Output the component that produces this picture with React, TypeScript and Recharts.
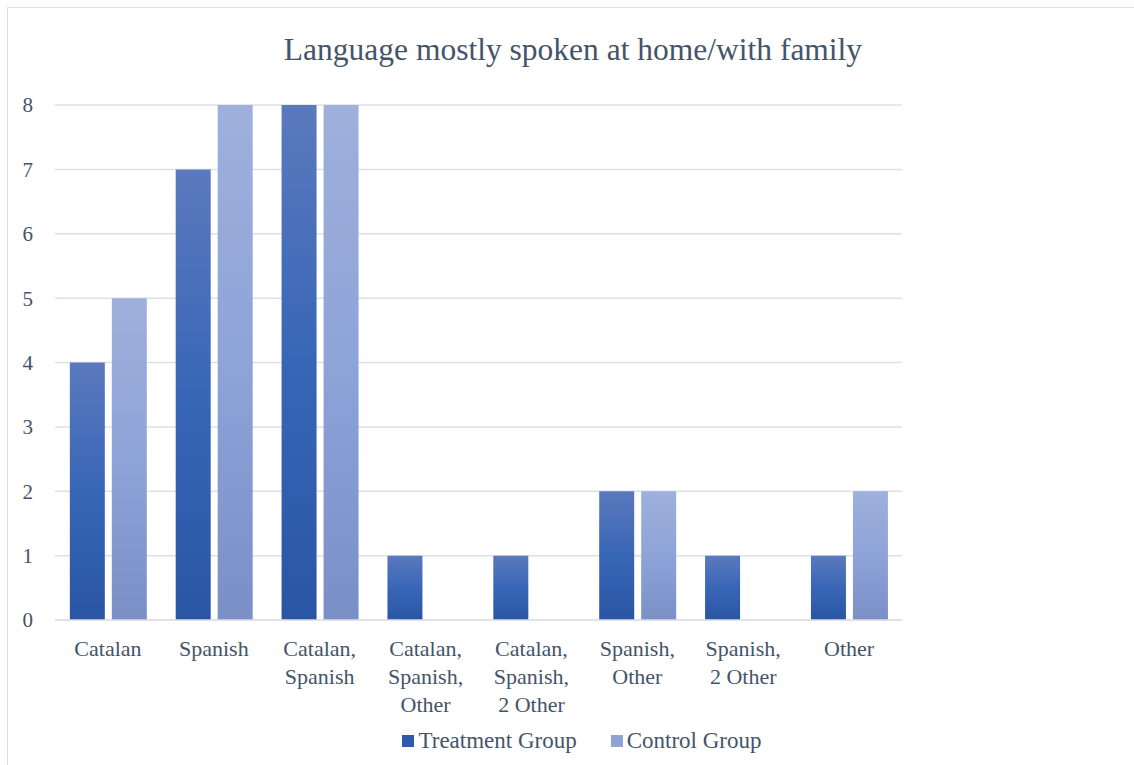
import React from 'react';
import { BarChart, Bar, XAxis, YAxis, CartesianGrid } from 'recharts';

// chart data
const categories = [
  'Catalan',
  'Spanish',
  'Catalan,\nSpanish',
  'Catalan,\nSpanish,\nOther',
  'Catalan,\nSpanish,\n2 Other',
  'Spanish,\nOther',
  'Spanish,\n2 Other',
  'Other',
];
const treatmentValues = [4, 7, 8, 1, 1, 2, 1, 1];
const controlValues = [5, 8, 8, 0, 0, 2, 0, 2];
const yTicks = [0, 1, 2, 3, 4, 5, 6, 7, 8];
const seriesNames = ['Treatment Group', 'Control Group'];
const title = 'Language mostly spoken at home/with family';

const FONT = '"Liberation Serif", "Times New Roman", Tinos, serif';
const TEXT_COLOR = '#44546a';
const GRID_COLOR = '#dde1e7';
const TREATMENT_SWATCH = '#2f5aaa';
const CONTROL_SWATCH = '#8fa3d6';

const data = categories.map((name, i) => ({
  name,
  treatment: treatmentValues[i],
  control: controlValues[i],
}));

// force the serif face everywhere in the chart
const fontCss = `html body #root .chart-root, html body #root .chart-root * { font-family: ${FONT} !important; }`;

// multi-line category labels
const CategoryTick = (props: any) => {
  const { x, y, payload } = props;
  const lines = String(payload.value).split('\n');
  return (
    <g transform={`translate(${x},${y})`}>
      {lines.map((line: string, i: number) => (
        <text
          key={i}
          x={0}
          y={28 + i * 28}
          textAnchor="middle"
          fill={TEXT_COLOR}
          fontSize={22}
          fontFamily="Liberation Serif"
        >
          {line}
        </text>
      ))}
    </g>
  );
};

const App: React.FC = () => {
  return (
    <div className="chart-root" style={{ position: 'absolute', left: 0, top: 0, width: 1134, height: 765, overflow: 'hidden', background: '#fff', fontFamily: FONT }}>
      <style>{fontCss}</style>
      {/* chart frame, only left/top edges visible */}
      <div style={{ position: 'absolute', left: 7, top: 7, width: 1200, height: 800, border: `1.5px solid ${GRID_COLOR}` }} />

      <div style={{ position: 'absolute', left: 0, top: 32, width: 1146, textAlign: 'center', fontSize: 31.5, color: TEXT_COLOR }}>
        {title}
      </div>

      <div style={{ position: 'absolute', left: 0, top: 0 }}>
        <BarChart
          width={1134}
          height={765}
          data={data}
          margin={{ top: 105, right: 232, left: 0, bottom: 45 }}
          barCategoryGap="14%"
          barGap={7}
        >
          <defs>
            <linearGradient id="gradTreatment" x1="0" y1="0" x2="0" y2="1">
              <stop offset="0%" stopColor="#5b79bd" />
              <stop offset="50%" stopColor="#3866b7" />
              <stop offset="100%" stopColor="#2a55a5" />
            </linearGradient>
            <linearGradient id="gradControl" x1="0" y1="0" x2="0" y2="1">
              <stop offset="0%" stopColor="#9eb0db" />
              <stop offset="50%" stopColor="#8ea3d8" />
              <stop offset="100%" stopColor="#7a8fc6" />
            </linearGradient>
          </defs>
          <CartesianGrid vertical={false} stroke={GRID_COLOR} strokeWidth={1.5} />
          <XAxis
            dataKey="name"
            height={100}
            interval={0}
            tick={<CategoryTick />}
            tickLine={false}
            axisLine={{ stroke: GRID_COLOR, strokeWidth: 1.5 }}
          />
          <YAxis
            width={55}
            domain={[0, 8]}
            ticks={yTicks}
            tickSize={0}
            tickMargin={22}
            axisLine={false}
            tickLine={false}
            tick={{ fill: TEXT_COLOR, fontSize: 21, fontFamily: 'Liberation Serif' }}
          />
          <Bar dataKey="treatment" name={seriesNames[0]} fill="url(#gradTreatment)" isAnimationActive={false} />
          <Bar dataKey="control" name={seriesNames[1]} fill="url(#gradControl)" isAnimationActive={false} />
        </BarChart>
      </div>

      {/* legend */}
      <div style={{ position: 'absolute', left: 0, top: 728, width: 1164, display: 'flex', justifyContent: 'center', fontSize: 23, color: TEXT_COLOR }}>
        {seriesNames.map((name, i) => (
          <div key={name} style={{ display: 'flex', alignItems: 'center', marginRight: i === 0 ? 34 : 0 }}>
            <span style={{ display: 'inline-block', width: 12, height: 12, marginRight: 4, background: i === 0 ? TREATMENT_SWATCH : CONTROL_SWATCH }} />
            <span>{name}</span>
          </div>
        ))}
      </div>
    </div>
  );
};

export default App;
